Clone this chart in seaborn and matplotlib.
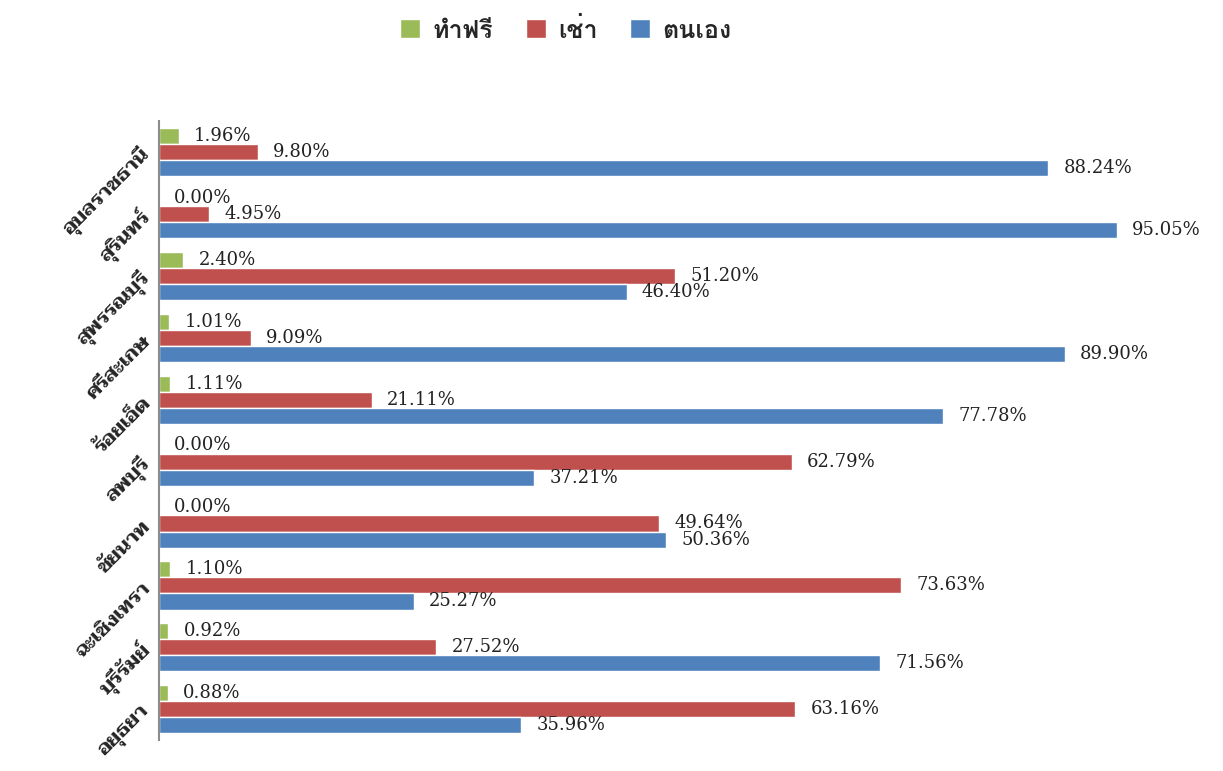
import matplotlib
matplotlib.use("Agg")
import matplotlib.pyplot as plt
import pandas as pd
import seaborn as sns

# provinces, top to bottom
provinces = ["อุบลราชธานี", "สุรินทร์", "สุพรรณบุรี", "ศรีสะเกษ", "ร้อยเอ็ด",
             "ลพบุรี", "ชัยนาท", "ฉะเชิงเทรา", "บุรีรัมย์", "อยุธยา"]
series = ["ทำฟรี", "เช่า", "ตนเอง"]
free_pct = [1.96, 0.00, 2.40, 1.01, 1.11, 0.00, 0.00, 1.10, 0.92, 0.88]
rent_pct = [9.80, 4.95, 51.20, 9.09, 21.11, 62.79, 49.64, 73.63, 27.52, 63.16]
own_pct = [88.24, 95.05, 46.40, 89.90, 77.78, 37.21, 50.36, 25.27, 71.56, 35.96]
colors = ["#9BBB59", "#C0504D", "#4F81BD"]

df = pd.DataFrame({
    "province": provinces * 3,
    "type": [s for s in series for _ in provinces],
    "pct": free_pct + rent_pct + own_pct,
})

sns.set_style("white")
plt.rcParams["font.family"] = ["DejaVu Serif", "Taviraj"]

fig = plt.figure(figsize=(12.23, 7.71), dpi=100)
ax = fig.add_axes([0.130, 0.040, 0.824, 0.803])

sns.barplot(data=df, x="pct", y="province", hue="type", order=provinces,
            hue_order=series, palette=colors, orient="h", width=0.78,
            saturation=1, ax=ax, legend=True)

for cont in ax.containers:
    ax.bar_label(cont, fmt="%.2f%%", padding=11, fontsize=13,
                 family=["DejaVu Serif"], color="#222222")

ax.set_xlim(0, 100)
ax.set_ylim(9.5, -0.5)
ax.set_xlabel("")
ax.set_ylabel("")
ax.set_xticks([])
for side in ["top", "right", "bottom"]:
    ax.spines[side].set_visible(False)
ax.spines["left"].set_color("#8c8c8c")
ax.spines["left"].set_linewidth(1.5)

ax.set_yticks(range(len(provinces)))
ax.set_yticklabels(provinces, rotation=45, ha="right", va="center",
                   rotation_mode="anchor", fontsize=14.5, fontweight="bold",
                   family=["Taviraj", "DejaVu Serif"])
ax.tick_params(axis="y", length=0, pad=8)

handles, labels = ax.get_legend_handles_labels()
ax.legend(handles, labels, loc="center", bbox_to_anchor=(566 / 1223, 1 - 30 / 771),
          bbox_transform=fig.transFigure, ncol=3, frameon=False,
          prop={"family": ["Loma", "DejaVu Sans"], "weight": "bold", "size": 18},
          handlelength=0.8, handleheight=0.8, handletextpad=0.5, columnspacing=1.3)

fig.savefig("out.png", dpi=100)
